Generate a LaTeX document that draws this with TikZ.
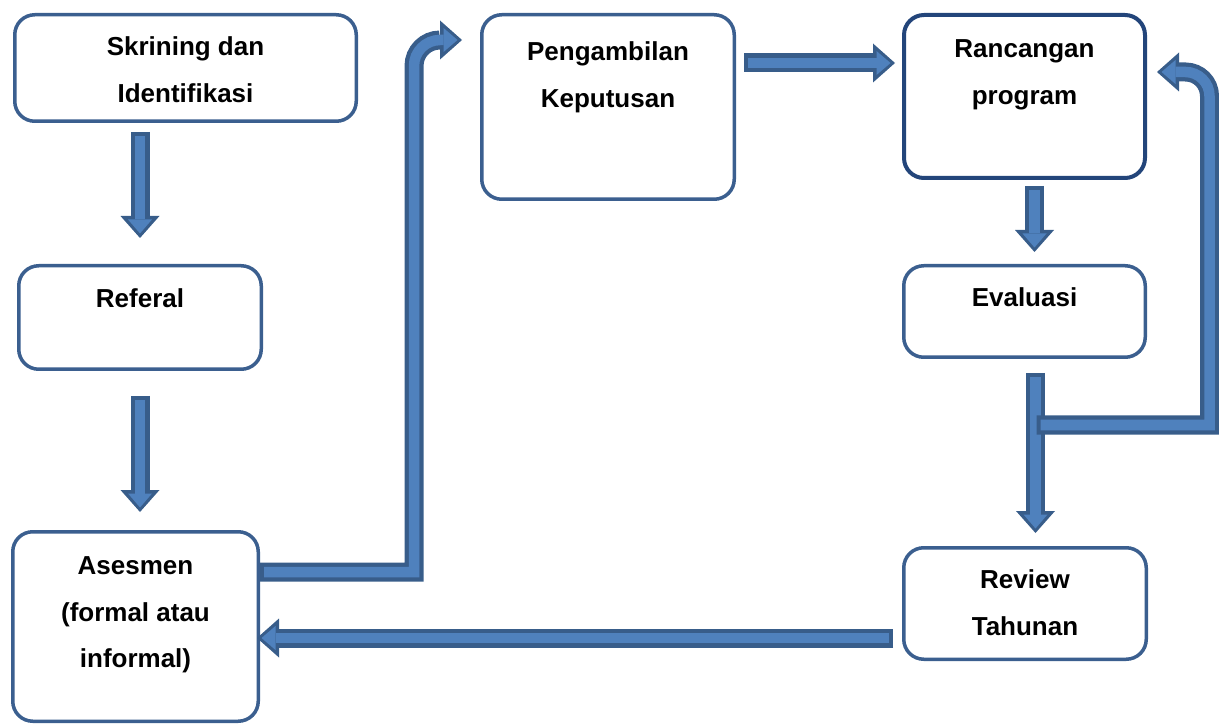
\documentclass[tikz,border=0pt]{standalone}
\usepackage{fontspec}
\setmainfont{Liberation Sans}
\usetikzlibrary{positioning,calc,arrows.meta}

\definecolor{boxline}{RGB}{59,95,143}
\definecolor{boxdark}{RGB}{35,69,122}
\definecolor{arrowline}{RGB}{56,93,138}
\definecolor{arrowfill}{RGB}{79,129,189}

\tikzset{
  box/.style={draw=boxline, line width=3.5pt, rounded corners=20pt, fill=white},
  boxtext/.style={anchor=north, inner sep=0pt, align=center,
    font=\fontsize{26}{46.5}\selectfont\bfseries},
  blockarrow/.style={draw=arrowfill, line width=10.5pt, shorten <=4pt, shorten >=4.5pt,
    -{Triangle[length=14pt,width=24pt,line width=0pt]},
    preaction={draw=arrowline, line width=19pt, shorten <=0pt, shorten >=0pt,
      -{Triangle[length=22pt,width=39pt,line width=0pt]}}},
}

\begin{document}
\begin{tikzpicture}[x=1pt,y=-1pt]
\useasboundingbox (0,0) rectangle (1219,727);

% boxes
\node[box, minimum width=341.5pt, minimum height=106.5pt] (skr) at (185.5,68) {};
\node[box, minimum width=242.5pt, minimum height=103.5pt] (ref) at (140,317.5) {};
\node[box, minimum width=245.5pt, minimum height=189.5pt] (ase) at (135.5,626.5) {};
\node[box, minimum width=252.5pt, minimum height=184.5pt] (pen) at (608,107) {};
\node[box, draw=boxdark, line width=4pt, minimum width=241pt, minimum height=163pt] (ran) at (1024.5,96.5) {};
\node[box, minimum width=241.5pt, minimum height=91.5pt] (eva) at (1024.5,311.5) {};
\node[box, minimum width=242.5pt, minimum height=111.5pt] (rev) at (1025,603.5) {};

% texts
\node[boxtext, below=23.5pt of skr.north] (skr-t) {Skrining dan\\Identifikasi};
\node[boxtext, below=24.5pt of ref.north] (ref-t) {Referal};
\node[boxtext, below=26.5pt of ase.north] (ase-t) {Asesmen\\(formal atau\\informal)};
\node[boxtext, below=28.5pt of pen.north] (pen-t) {Pengambilan\\Keputusan};
\node[boxtext, below=26.5pt of ran.north] (ran-t) {Rancangan\\program};
\node[boxtext, below=23.5pt of eva.north] (eva-t) {Evaluasi};
\node[boxtext, below=23.5pt of rev.north] (rev-t) {Review\\Tahunan};

% arrows
\draw[blockarrow] ($(skr.south -| ref.north)+(0,9)$) -- ($(ref.north)+(0,-26)$);
\draw[blockarrow] ($(ref.south)+(0,25)$) -- ($(ref.south |- ase.north)+(0,-18)$);

\coordinate (cbend) at (414,0);
\coordinate (ctip) at ($(pen.north west)+(-18,27)$);
\coordinate (cstart) at ($(ase.north east)+(0,42)$);
\draw[blockarrow] (cstart) -- (cstart -| cbend) -- ($(cbend |- ctip)+(0,26)$)
  arc[start angle=180, end angle=90, radius=26pt] -- (ctip);

\draw[blockarrow] ($(pen.north east)+(8,50)$) -- ($(ran.north west)+(-7,50)$);
\draw[blockarrow] ($(ran.south)+(10,6)$) -- ($(eva.north)+(10,-12)$);
\draw[blockarrow] ($(eva.south)+(11,14)$) -- ($(eva.south |- rev.north)+(11,-13)$);

\coordinate (gbend) at (1209.5,0);
\coordinate (gtip) at ($(ran.north east)+(10,59)$);
\coordinate (gstart) at ($(eva.south)+(12,66)$);
\draw[blockarrow] (gstart) -- (gstart -| gbend) -- ($(gbend |- gtip)+(0,24)$)
  arc[start angle=0, end angle=90, radius=24pt] -- (gtip);

\coordinate (hstart) at ($(rev.north west)+(-9,92)$);
\draw[blockarrow] (hstart) -- ($(hstart -| ase.east)+(-3,0)$);
\end{tikzpicture}
\end{document}
